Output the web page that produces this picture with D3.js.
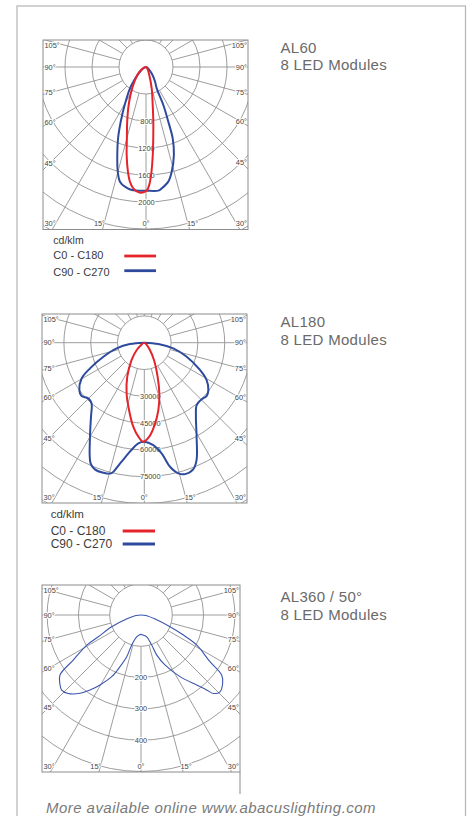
<!DOCTYPE html>
<html>
<head>
<meta charset="utf-8">
<script src="https://cdn.jsdelivr.net/npm/d3@7"></script>
<style>
  body { margin: 0; background: #fff; }
  svg { display: block; }
  text { font-family: "Liberation Sans", Arial, Helvetica, sans-serif; }
</style>
</head>
<body>
<svg id="chart" width="473" height="816"></svg>
<script>
// ---------------- DATA ----------------
// AL60 (cd/klm), angle in degrees from nadir (negative = left half)
const al60C0Angles = [-90,-75,-60,-47,-33,-24.5,-19,-15,-12.4,-9.8,-8,-6,-3,0,1,2,3,4.4,5.8,7.6,10,15,22,35,50,70,90];
const al60C0Values = [0,25,80,175,378,619,856,1094,1334,1573,1715,1807,1863,1840,1797,1700,1554,1308,1062,818,572,326,129,45,15,5,0];
const al60C90Angles = [-90,-75,-62,-55,-47,-40.8,-36.9,-29.3,-24.8,-21.4,-18.1,-15.1,-12.8,-10,-6.6,0,5.7,7.4,11,13.8,17.6,20.5,22.2,24.5,26.6,32,39,50,65,90];
const al60C90Values = [0,10,40,90,175,287,395,646,893,1134,1370,1605,1742,1800,1833,1832,1841,1813,1730,1597,1367,1129,874,619,354,250,153,60,15,0];
const al60Rings = [400,800,1200,1600,2000,2400,2800];
const al60RingLabels = [800,1200,1600,2000];

// AL180
const al180C0Angles = [-90,-70,-55,-46,-36.3,-26.6,-19.2,-12.8,-7.5,-3.6,-0.6,3,6.6,11.8,16.5,21.4,29.2,38,50,70,90];
const al180C0Values = [0,500,2000,5900,12000,21300,30100,38600,47400,52700,55400,52700,47300,38500,29600,20400,11100,5000,1500,300,0];
const al180C90Angles = [-90,-84.7,-78.4,-71.1,-64.7,-60.3,-53.9,-49.6,-45.2,-41,-35.8,-30,-24,-21.3,-17.5,-14.3,-13,-10.8,-7.5,-3.4,0,5,8.9,11.7,14.6,17.2,21.1,24,29.1,34.9,40,45.3,49.4,53.5,59.1,63.9,71.7,78.9,84.6,90];
const al180C90Values = [0,8100,15800,24200,33600,40400,45000,46100,44200,45000,51000,60800,73900,76100,76300,75500,73100,67800,61500,56400,55400,57500,62700,70900,75600,77000,76000,71900,60200,50500,45600,45100,45900,44600,40600,34700,25000,16500,7900,0];
const al180Rings = [15000,30000,45000,60000,75000,90000,105000];
const al180RingLabels = [30000,45000,60000,75000];

// AL360 / 50°
const al360Angles = [-90,-85,-74.4,-68.2,-63,-61,-56.4,-53.5,-49.9,-46.6,-42.9,-37.9,-34.2,-30.4,-25.4,-22.1,-18.9,-17.2,-11.3,-5,0,5,14.7,19.6,21.4,25.6,32.3,38.5,41.2,42.7,45.8,50.1,53.4,55.9,61.7,64.7,68,74,85,90];
const al360Values = [0,16,48,101,153,198,260,322,339,349,342,317,290,259,218,178,141,100,71,64,62,64,72,102,137,177,233,286,318,341,352,340,321,266,202,150,100,47,16,0];
const al360Rings = [100,200,300,400,500,600];
const al360RingLabels = [200,300,400];

const sideAngleLabels = [45,60,75,90,105];
const bottomAngleLabels = [0,15,30];
const legendLabels = ["C0 - C180","C90 - C270"];
const unitLabel = "cd/klm";
const titleAL60 = ["AL60","8 LED Modules"];
const titleAL180 = ["AL180","8 LED Modules"];
const titleAL360 = ["AL360 / 50°","8 LED Modules"];
const footerText = "More available online www.abacuslighting.com";

// ---------------- STYLE ----------------
const RED = "#e5232b";
const BLUE = "#2e4a9d";
const GRID = "#929292";
const LABEL = "#444";

const svg = d3.select("#chart");

// outer frame
svg.append("rect")
  .attr("x", 17).attr("y", 6).attr("width", 448.5).attr("height", 830)
  .attr("fill", "none").attr("stroke", "#b4b4b4").attr("stroke-width", 1.2);

const zip = (a, v) => a.map((d, i) => [d, v[i]]);

function drawPolar(cfg) {
  const { x0, y0, x1, y1, cx, cy } = cfg;
  const g = svg.append("g");
  const clipId = "clip-" + cfg.id;
  g.append("clipPath").attr("id", clipId)
    .append("rect").attr("x", x0).attr("y", y0).attr("width", x1 - x0).attr("height", y1 - y0);

  const rScale = d3.scaleLinear().domain([0, cfg.rings[0]]).range([0, cfg.ringPx]);
  const aScale = d3.scaleLinear().domain([-180, 180]).range([2 * Math.PI, 0]);
  const px = (deg, r) => r * Math.sin(aScale(deg));
  const py = (deg, r) => -r * Math.cos(aScale(deg));

  const clipped = g.append("g").attr("clip-path", `url(#${clipId})`)
    .append("g").attr("transform", `translate(${cx},${cy})`);

  const innerR = rScale(cfg.rings[0]);
  const spokes = d3.range(-165, 181, 15);
  clipped.selectAll("line.spoke").data(spokes).join("line")
    .attr("class", "spoke")
    .attr("x1", d => px(d, innerR)).attr("y1", d => py(d, innerR))
    .attr("x2", d => px(d, 400)).attr("y2", d => py(d, 400))
    .attr("stroke", GRID).attr("stroke-width", 0.9);

  clipped.selectAll("circle.ring").data(cfg.rings).join("circle")
    .attr("class", "ring")
    .attr("r", d => rScale(d))
    .attr("fill", (d, i) => i === 0 ? "#fff" : "none")
    .attr("stroke", GRID).attr("stroke-width", 0.9);

  // labels
  const lab = g.append("g")
    .attr("font-size", 7.4).attr("fill", LABEL)
    .attr("stroke", "#fff").attr("stroke-width", 2.2)
    .attr("paint-order", "stroke").attr("stroke-linejoin", "round");

  const rad = Math.PI / 180;
  sideAngleLabels.forEach(a => {
    const t = (x1 - 7 - cx) / Math.sin(a * rad);
    let y = cy + t * Math.cos(a * rad);
    y = Math.max(y0 + 5, Math.min(y1 - 5, y));
    lab.append("text").attr("x", x1 - 1).attr("y", y)
      .attr("text-anchor", "end").attr("dominant-baseline", "central").text(a + "°");
    const t2 = (cx - x0 - 7) / Math.sin(a * rad);
    let y2 = cy + t2 * Math.cos(a * rad);
    y2 = Math.max(y0 + 5, Math.min(y1 - 5, y2));
    lab.append("text").attr("x", x0 + 1.5).attr("y", y2)
      .attr("text-anchor", "start").attr("dominant-baseline", "central").text(a + "°");
  });
  const by = y1 - 6;
  bottomAngleLabels.forEach(a => {
    if (a === 0) {
      lab.append("text").attr("x", cx).attr("y", by)
        .attr("text-anchor", "middle").attr("dominant-baseline", "central").text("0°");
    } else if (a === 30) {
      lab.append("text").attr("x", x0 + 1.5).attr("y", by)
        .attr("text-anchor", "start").attr("dominant-baseline", "central").text("30°");
      lab.append("text").attr("x", x1 - 1).attr("y", by)
        .attr("text-anchor", "end").attr("dominant-baseline", "central").text("30°");
    } else {
      const dx = (by - cy) * Math.tan(a * rad);
      lab.append("text").attr("x", cx - dx + 1).attr("y", by)
        .attr("text-anchor", "end").attr("dominant-baseline", "central").text(a + "°");
      lab.append("text").attr("x", cx + dx - 1).attr("y", by)
        .attr("text-anchor", "start").attr("dominant-baseline", "central").text(a + "°");
    }
  });
  cfg.ringLabels.forEach(v => {
    lab.append("text").attr("x", cx + (cfg.ringLabelDx || 0)).attr("y", cy + rScale(v))
      .attr("text-anchor", "middle").attr("dominant-baseline", "central").text(v);
  });

  // curves
  const line = d3.lineRadial()
    .angle(d => aScale(d[0]))
    .radius(d => rScale(d[1]))
    .curve(d3.curveCatmullRom.alpha(0.5));
  const curves = g.append("g").attr("clip-path", `url(#${clipId})`)
    .append("g").attr("transform", `translate(${cx},${cy})`);
  cfg.series.forEach(s => {
    curves.append("path").attr("d", line(s.data))
      .attr("fill", "none").attr("stroke", s.color).attr("stroke-width", s.width)
      .attr("stroke-linejoin", "round");
  });

  // box
  g.append("rect").attr("x", x0).attr("y", y0).attr("width", x1 - x0).attr("height", y1 - y0)
    .attr("fill", "none").attr("stroke", "#8c8c8c").attr("stroke-width", 1);
  if (cfg.extendRight) {
    g.append("line").attr("x1", x1).attr("x2", x1).attr("y1", y1).attr("y2", cfg.extendRight)
      .attr("stroke", "#8c8c8c").attr("stroke-width", 1);
  }
}

function drawTitle(lines, x, y, gap) {
  const t = svg.append("text").attr("x", x).attr("y", y)
    .attr("font-size", 15).attr("fill", "#6a6a6a").attr("letter-spacing", 0.3);
  lines.forEach((l, i) => t.append("tspan").attr("x", x).attr("dy", i === 0 ? 0 : gap).text(l));
}

function drawLegend(x, unitY, y0, gap, size, lx0, lx1, lineOff) {
  const g = svg.append("g").attr("fill", "#3c3c3c");
  g.append("text").attr("x", x).attr("y", unitY).attr("font-size", size - 0.5).text(unitLabel);
  const colors = [RED, BLUE];
  legendLabels.forEach((l, i) => {
    const y = y0 + i * gap;
    g.append("text").attr("x", x).attr("y", y).attr("font-size", size).text(l);
    g.append("line").attr("x1", lx0).attr("x2", lx1)
      .attr("y1", y - lineOff[i]).attr("y2", y - lineOff[i])
      .attr("stroke", colors[i]).attr("stroke-width", 2.8);
  });
}

// ---------- Chart 1: AL60 ----------
drawPolar({
  id: "al60", x0: 43, y0: 40, x1: 248, y1: 229.5, cx: 146, cy: 67,
  rings: al60Rings, ringPx: 27, ringLabels: al60RingLabels, ringLabelDx: 0.5,
  series: [
    { data: zip(al60C90Angles, al60C90Values), color: BLUE, width: 2 },
    { data: zip(al60C0Angles, al60C0Values), color: RED, width: 2 }
  ]
});
drawTitle(titleAL60, 280.5, 52.7, 16.8);
drawLegend(53.3, 244, 259.3, 16.4, 11, 124.3, 156, [3.3, 5]);

// ---------- Chart 2: AL180 ----------
drawPolar({
  id: "al180", x0: 42, y0: 314, x1: 247, y1: 503, cx: 144.3, cy: 342.7,
  rings: al180Rings, ringPx: 26.8, ringLabels: al180RingLabels, ringLabelDx: 6,
  series: [
    { data: zip(al180C90Angles, al180C90Values), color: BLUE, width: 2 },
    { data: zip(al180C0Angles, al180C0Values), color: RED, width: 2 }
  ]
});
drawTitle(titleAL180, 280.5, 327.3, 17.5);
drawLegend(50.7, 518.3, 535, 12.7, 12, 122.7, 155, [4, 3.7]);

// ---------- Chart 3: AL360 / 50° ----------
drawPolar({
  id: "al360", x0: 42, y0: 585, x1: 240, y1: 772, cx: 141, cy: 615,
  rings: al360Rings, ringPx: 31.3, ringLabels: al360RingLabels, ringLabelDx: 0,
  extendRight: 794,
  series: [
    { data: zip(al360Angles, al360Values), color: "#3a55b0", width: 1.1 }
  ]
});
drawTitle(titleAL360, 280.5, 602.3, 17.5);

// footer
svg.append("text").attr("x", 46).attr("y", 812.5)
  .attr("font-size", 15).attr("font-style", "italic").attr("fill", "#7a7a7a")
  .attr("letter-spacing", 0.45).text(footerText);
</script>
</body>
</html>
